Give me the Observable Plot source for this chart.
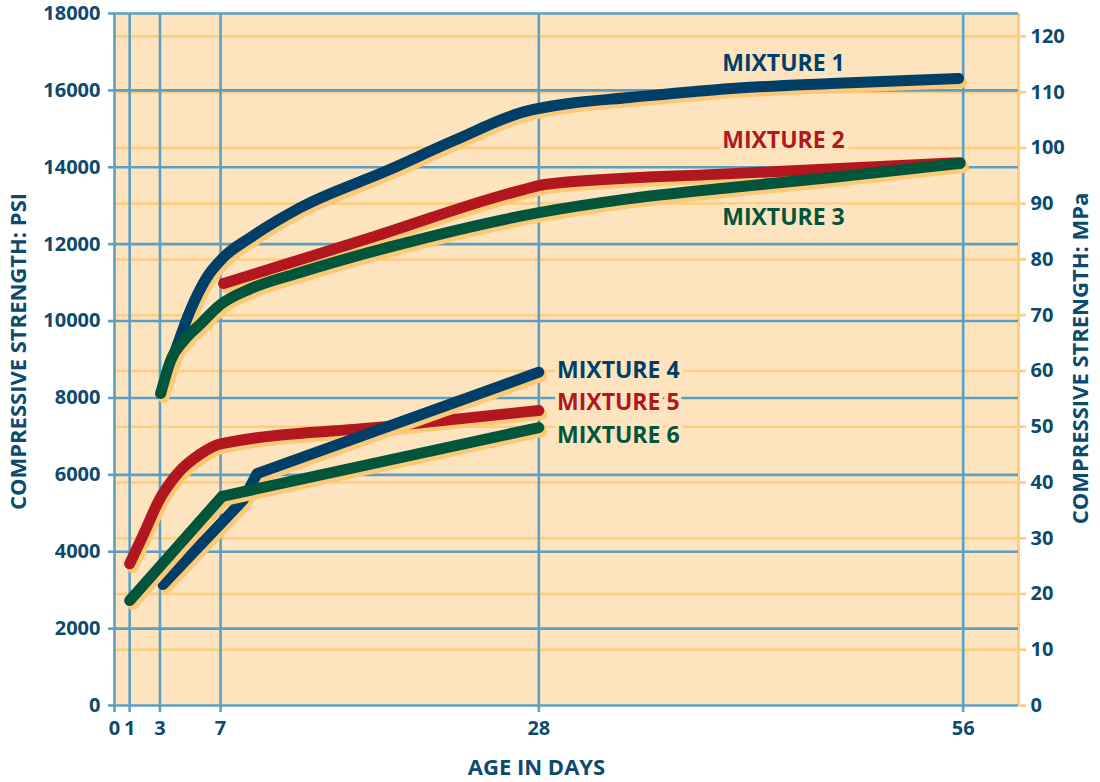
<!DOCTYPE html>
<html>
<head>
<meta charset="utf-8">
<script src="https://cdn.jsdelivr.net/npm/d3@7"></script>
<script src="https://cdn.jsdelivr.net/npm/@observablehq/plot@0.6"></script>
<style>
  html, body { margin: 0; padding: 0; background: #ffffff; }
  #chart svg { display: block; }
</style>
</head>
<body>
<div id="chart"></div>
<script>
// ---------- data ----------
const mixtureNames = ["MIXTURE 1", "MIXTURE 2", "MIXTURE 3", "MIXTURE 4", "MIXTURE 5", "MIXTURE 6"];

const mixture1Days = [3.05, 4.1, 5, 6.1, 7.2, 9, 12.3, 18, 22.4, 27, 30, 34, 40.7, 47.3, 55.7];
const mixture1Psi  = [8115, 9320, 10275, 11140, 11660, 12180, 12960, 13915, 14695, 15440, 15660, 15815, 16050, 16180, 16310];

const mixture2Days = [7.2, 17, 27, 28.5, 40.7, 55.8];
const mixture2Psi  = [10975, 12180, 13420, 13560, 13835, 14120];

const mixture3Days = [3.05, 3.7, 4.57, 5.7, 7, 9, 12.3, 18, 28, 34, 40.7, 47.3, 55.8];
const mixture3Psi  = [8115, 8970, 9490, 9935, 10430, 10845, 11270, 11910, 12820, 13185, 13475, 13735, 14100];

const mixture4Days = [3.2, 8.5, 9.4, 28];
const mixture4Psi  = [3150, 5350, 6030, 8670];

const mixture5Days = [1.0, 1.93, 2.93, 4.14, 5.68, 7.0, 18, 28];
const mixture5Psi  = [3685, 4465, 5330, 6025, 6545, 6805, 7260, 7675];

const mixture6Days = [1.0, 7.1, 28];
const mixture6Psi  = [2730, 5440, 7230];

const dayTicks = [0, 1, 3, 7, 28, 56];
const psiTicks = d3.range(0, 18001, 2000);
const mpaTicks = d3.range(0, 121, 10);
const PSI_PER_MPA = 145.038;

const labelDays = [40.1, 40.1, 40.1, 29.2, 29.2, 29.2];
const labelPsi  = [16700, 14695, 12693, 8713, 7881, 7023];

// ---------- styles ----------
const BG = "#fde3be";
const ORANGE_GRID = "#fdcd80";
const SHADOW = "#fdc977";
const BLUE_GRID = "#5ba0c2";
const TEXT_BLUE = "#0c4a6e";
const LINE_BLUE = "#003f68";
const LINE_RED = "#b2171f";
const LINE_GREEN = "#00553b";
const seriesColors = [LINE_BLUE, LINE_RED, LINE_GREEN, LINE_BLUE, LINE_RED, LINE_GREEN];

const series = [
  {days: mixture1Days, psi: mixture1Psi, curve: "monotone-x"},
  {days: mixture2Days, psi: mixture2Psi, curve: "monotone-x"},
  {days: mixture3Days, psi: mixture3Psi, curve: "monotone-x"},
  {days: mixture4Days, psi: mixture4Psi, curve: "linear"},
  {days: mixture5Days, psi: mixture5Psi, curve: "monotone-x"},
  {days: mixture6Days, psi: mixture6Psi, curve: "linear"}
].map((s, i) => ({
  ...s,
  color: seriesColors[i],
  rows: s.days.map((d, j) => ({mixture: mixtureNames[i], day: d, psi: s.psi[j]}))
}));

// drawing order: red, blue, green (each with its own shadow)
const drawOrder = [1, 4, 0, 3, 2, 5];
const lineMarks = [];
for (const i of drawOrder) {
  const s = series[i];
  lineMarks.push(Plot.line(s.rows, {
    x: "day", y: "psi", curve: s.curve, stroke: SHADOW, strokeWidth: 11,
    strokeLinecap: "round", strokeLinejoin: "round", dx: 3, dy: 4
  }));
  lineMarks.push(Plot.line(s.rows, {
    x: "day", y: "psi", curve: s.curve, stroke: s.color, strokeWidth: 11,
    strokeLinecap: "round", strokeLinejoin: "round"
  }));
}

const labels = mixtureNames.map((n, i) => ({name: n, day: labelDays[i], psi: labelPsi[i], color: seriesColors[i]}));

const mpaAsPsi = mpaTicks.map(m => m * PSI_PER_MPA);

const chart = Plot.plot({
  width: 1100,
  height: 782,
  marginLeft: 114,
  marginRight: 82,
  marginTop: 13,
  marginBottom: 77,
  style: {fontFamily: "'Open Sans', 'Noto Sans', sans-serif", background: "#ffffff", overflow: "visible"},
  x: {domain: [0, 59.65], axis: null},
  y: {domain: [0, 18000], axis: null},
  marks: [
    Plot.frame({fill: BG, stroke: "none"}),
    Plot.ruleY(mpaAsPsi.filter(v => v > 0), {stroke: ORANGE_GRID, strokeWidth: 2.6}),
    Plot.ruleX([59.65], {stroke: ORANGE_GRID, strokeWidth: 3}),
    Plot.ruleY(psiTicks, {stroke: BLUE_GRID, strokeWidth: 2.6}),
    Plot.ruleX(dayTicks, {stroke: BLUE_GRID, strokeWidth: 2.6}),
    Plot.axisY(psiTicks, {
      anchor: "left", tickSize: 6, tickPadding: 8, stroke: BLUE_GRID, strokeWidth: 2.6,
      fill: TEXT_BLUE, fontSize: 20, fontWeight: 700, tickFormat: d => String(d), label: null
    }),
    Plot.axisY(mpaAsPsi, {
      anchor: "right", tickSize: 7, tickPadding: 5, stroke: ORANGE_GRID, strokeWidth: 2.6,
      fill: TEXT_BLUE, fontSize: 20, fontWeight: 700,
      tickFormat: d => String(Math.round(d / PSI_PER_MPA)), label: null
    }),
    Plot.axisX(dayTicks, {
      anchor: "bottom", tickSize: 7, tickPadding: 8, stroke: BLUE_GRID, strokeWidth: 2.6,
      fill: TEXT_BLUE, fontSize: 20, fontWeight: 700, tickFormat: d => String(d), label: null
    }),
    ...lineMarks,
    Plot.text(labels, {
      x: "day", y: "psi", text: "name", fill: "color", textAnchor: "start",
      fontSize: 23, fontWeight: 700, stroke: BG, strokeWidth: 8, paintOrder: "stroke"
    }),
    Plot.text(["COMPRESSIVE STRENGTH: PSI"], {
      text: d => d, frameAnchor: "left", dx: -96, dy: -8, rotate: -90,
      textAnchor: "middle", lineAnchor: "middle",
      fill: TEXT_BLUE, fontSize: 22, fontWeight: 700
    }),
    Plot.text(["COMPRESSIVE STRENGTH: MPa"], {
      text: d => d, frameAnchor: "right", dx: 62, dy: -1, rotate: -90,
      textAnchor: "middle", lineAnchor: "middle",
      fill: TEXT_BLUE, fontSize: 22, fontWeight: 700
    }),
    Plot.text(["AGE IN DAYS"], {
      text: d => d, frameAnchor: "bottom", dx: -30, dy: 62,
      textAnchor: "middle", lineAnchor: "middle",
      fill: TEXT_BLUE, fontSize: 22, fontWeight: 700
    })
  ]
});

document.getElementById("chart").appendChild(chart);
</script>
</body>
</html>
